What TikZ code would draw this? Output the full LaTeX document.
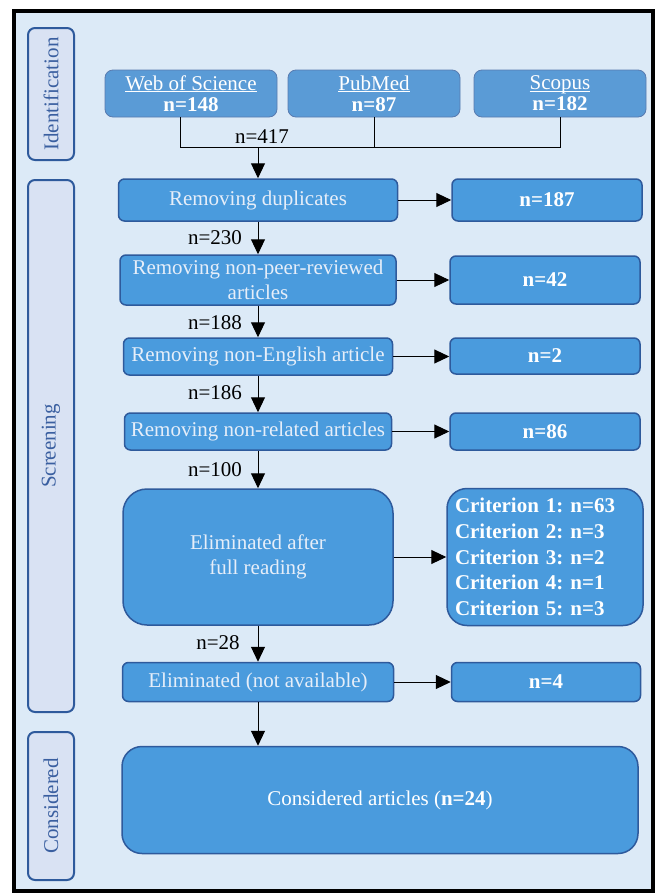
\documentclass[tikz,border=0pt]{standalone}
\usepackage{fontspec}
\setmainfont{Liberation Serif}
\usetikzlibrary{arrows.meta}
\definecolor{bgblue}{HTML}{DCEAF7}
\definecolor{boxblue}{HTML}{4A9BDD}
\definecolor{dbblue}{HTML}{5A9BD6}
\definecolor{edgeblue}{HTML}{2E5A9C}
\definecolor{sidefill}{HTML}{D9E2F3}
\definecolor{sidetext}{HTML}{3A5FA0}
\definecolor{txtlight}{HTML}{E6EEF9}
\newcommand{\dbul}[1]{\underline{\raisebox{0pt}[\height][0pt]{#1}}}
\frenchspacing
\begin{document}
\begin{tikzpicture}[x=1pt,y=-1pt,
  mainfont/.style={font=\fontsize{21}{25}\selectfont},
  box/.style={draw=edgeblue, line width=1.5pt, fill=boxblue, rounded corners=6pt,
    text=txtlight, mainfont, align=center, inner sep=0pt},
  resbox/.style={box, text=white, font=\fontsize{21}{25}\selectfont\bfseries},
  dbbox/.style={draw=edgeblue!80, line width=0.8pt, fill=dbblue, rounded corners=8pt,
    text=white, font=\fontsize{21}{21}\selectfont, align=center, inner sep=0pt,
    minimum height=47pt},
  sidebox/.style={draw=edgeblue, line width=2pt, fill=sidefill, rounded corners=7pt,
    text=sidetext, mainfont, rotate=90, inner sep=0pt, minimum height=46pt},
  lbl/.style={mainfont, text=black, inner sep=0pt},
  arr/.style={line width=1pt, -{Triangle[length=15pt,width=14pt]}},
  ln/.style={line width=1pt}
]
% frame
\useasboundingbox (0,0) rectangle (659,895);
\fill[white] (0,0) rectangle (659,895);
\draw[line width=4.5pt, fill=bgblue] (14,11) rectangle (653,891);

% side labels
\node[sidebox, minimum width=132pt] (ident) at (51,94) {Identification};
\node[sidebox, minimum width=532pt] (screen) at (51,446) {Screening};
\node[sidebox, minimum width=148pt] (consid) at (51,806) {Considered};

% databases
\node[dbbox, minimum width=172pt] (wos) at (191,93.5) {\dbul{Web of Science}\\\textbf{n=148}};
\node[dbbox, minimum width=172pt] (pub) at (374,93.5) {\dbul{PubMed}\\\textbf{n=87}};
\node[dbbox, minimum width=172pt] (sco) at (560,93.5) {\dbul{Scopus}\\\textbf{n=182}};

\coordinate (jw) at (180,147);
\coordinate (jp) at (374,147);
\coordinate (js) at (560,147);
\coordinate (jm) at (258,147);
\draw[ln] (jw |- wos.south) -- (jw) -- (js) -- (js |- sco.south);
\draw[ln] (jp |- pub.south) -- (jp);
\node[lbl] (l417) at (262,137) {n=417};

% left column
\node[box, minimum width=279pt, minimum height=42pt] (dup) at (258,200) {Removing duplicates};
\node[box, minimum width=276pt, minimum height=50pt] (peer) at (258,280) {Removing non-peer-reviewed\\articles};
\node[box, minimum width=269pt, minimum height=37pt] (eng) at (258,356.5) {Removing non-English article};
\node[box, minimum width=267pt, minimum height=37pt] (rel) at (258,431.5) {Removing non-related articles};
\node[box, minimum width=270pt, minimum height=136pt, rounded corners=24pt] (full) at (258,557) {Eliminated after\\full reading};
\node[box, minimum width=271pt, minimum height=39pt] (na) at (258,682) {Eliminated (not available)};
\node[box, minimum width=516pt, minimum height=107pt, rounded corners=20pt, text=white] (cons) at (380,800) {Considered articles (\textbf{n=24})};

% right column
\node[resbox, minimum width=190pt, minimum height=42pt] (r187) at (547,200) {n=187};
\node[resbox, minimum width=190pt, minimum height=48pt] (r42) at (545,280) {n=42};
\node[resbox, minimum width=190pt, minimum height=36pt] (r2) at (545,356) {n=2};
\node[resbox, minimum width=190pt, minimum height=37pt] (r86) at (545,431.5) {n=86};
\node[resbox, minimum width=196pt, minimum height=137pt, rounded corners=20pt,
  text width=180pt, align=left, font=\fontsize{21}{25.7}\selectfont\bfseries] (crit) at (545,557)
  {Criterion 1: n=63\\Criterion 2: n=3\\Criterion 3: n=2\\Criterion 4: n=1\\Criterion 5: n=3};
\node[resbox, minimum width=189pt, minimum height=39pt] (r4) at (546,682) {n=4};

% vertical arrows
\draw[arr] (jm) -- (dup.north);
\draw[arr] (dup.south) -- (peer.north);
\draw[arr] (peer.south) -- (eng.north);
\draw[arr] (eng.south) -- (rel.north);
\draw[arr] (rel.south) -- (full.north);
\draw[arr] (full.south) -- (na.north);
\draw[arr] (na.south) -- (na.south |- cons.north);

% labels
\node[lbl] (l230) at (215,238) {n=230};
\node[lbl] (l188) at (215,323) {n=188};
\node[lbl] (l186) at (215,393) {n=186};
\node[lbl] (l100) at (215,470) {n=100};
\node[lbl] (l28) at (218,643) {n=28};

% horizontal arrows
\draw[arr] (dup.east) -- (dup.east -| r187.west);
\draw[arr] (peer.east) -- (peer.east -| r42.west);
\draw[arr] (eng.east) -- (eng.east -| r2.west);
\draw[arr] (rel.east) -- (rel.east -| r86.west);
\draw[arr] (full.east) -- (full.east -| crit.west);
\draw[arr] (na.east) -- (na.east -| r4.west);
\end{tikzpicture}
\end{document}
